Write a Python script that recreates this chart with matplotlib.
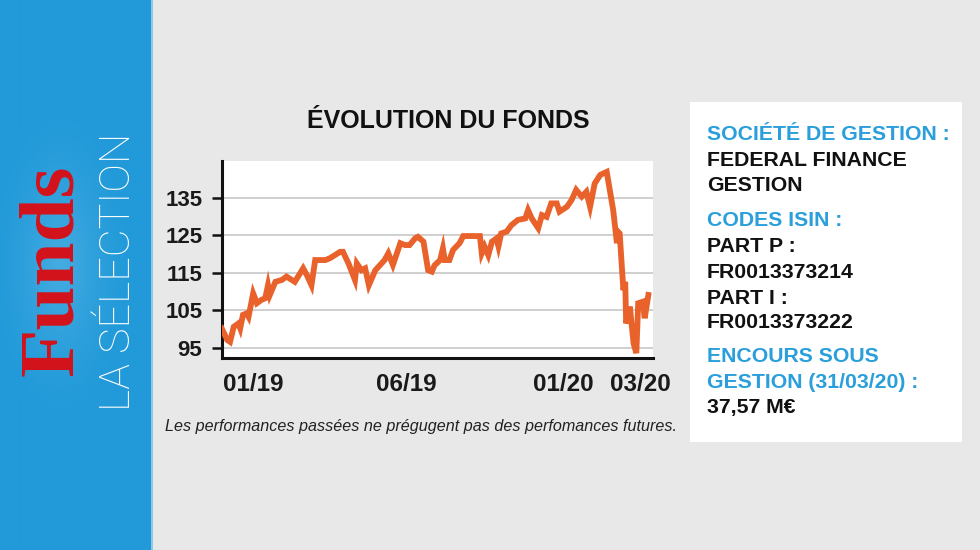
import numpy as np
import matplotlib.pyplot as plt
from matplotlib.colors import to_rgb

# données (jours depuis le début, valeur du fonds)
jours = [0, 6, 9, 13, 18, 20, 23, 27, 29, 34, 38, 43, 47, 50, 52, 58, 65, 70,
         79, 88, 92, 97, 101, 112, 117, 128, 131, 137, 144, 146, 151, 155, 159,
         166, 176, 180, 185, 193, 198, 203, 209, 212, 218, 223, 227, 230, 236,
         239, 241, 246, 250, 257, 261, 279, 281, 284, 288, 292, 297, 299, 302,
         308, 313, 320, 328, 331, 335, 342, 346, 351, 356, 362, 365, 373, 378,
         383, 389, 394, 398, 403, 409, 416, 423, 427, 428, 430, 434, 436, 437,
         441, 445, 448, 450, 455, 457, 461]
valeurs = [100.2, 97.1, 96.6, 100.6, 101.5, 100.2, 103.8, 104.2, 103.3, 109.5,
           106.9, 107.8, 108.2, 111.7, 109.1, 112.6, 113.1, 114.0, 112.6, 116.2,
           114.4, 111.7, 118.4, 118.4, 118.9, 120.6, 120.6, 117.5, 113.1, 117.5,
           115.7, 116.2, 111.7, 115.7, 118.4, 120.2, 117.1, 122.9, 122.4, 122.4,
           124.2, 124.6, 123.3, 115.7, 115.3, 117.0, 118.4, 121.5, 118.4, 118.4,
           121.1, 122.9, 124.8, 124.8, 120.2, 122.0, 119.7, 123.3, 124.2, 122.1,
           125.5, 126.0, 127.7, 129.1, 129.5, 131.7, 129.5, 126.9, 130.4, 129.9,
           133.5, 133.5, 131.3, 132.6, 134.4, 137.1, 135.3, 136.6, 132.6, 138.8,
           141.1, 141.9, 131.7, 122.9, 126.0, 125.5, 110.4, 112.6, 101.5, 106.0,
           96.2, 93.6, 106.9, 107.3, 102.9, 109.1]

yticks = [95, 105, 115, 125, 135]
xtick_pos = [34, 200, 369, 452]
xtick_labels = ['01/19', '06/19', '01/20', '03/20']

infos = [
    ('SOCIÉTÉ DE GESTION :', 'bleu'),
    ('FEDERAL FINANCE', 'noir'),
    ('GESTION', 'noir'),
    ('CODES ISIN :', 'bleu'),
    ('PART P :', 'noir'),
    ('FR0013373214', 'noir'),
    ('PART I :', 'noir'),
    ('FR0013373222', 'noir'),
    ('ENCOURS SOUS', 'bleu'),
    ('GESTION (31/03/20) :', 'bleu'),
    ('37,57 M€', 'noir'),
]
infos_y = [135, 160, 185, 221, 247, 272, 298, 323, 357, 383, 408]

BLEU = '#2a9fdb'
ORANGE = '#e9622b'
FOND = '#e8e8e8'

plt.rcParams['font.family'] = ['Liberation Sans', 'DejaVu Sans']

W, H = 980, 550
fig = plt.figure(figsize=(W / 100, H / 100), dpi=100, facecolor=FOND)


def fx(px):
    return px / W


def fy(py):
    return 1 - py / H


# bandeau bleu à gauche avec léger halo
ax_band = fig.add_axes([0, 0, fx(152), 1])
ax_band.set_axis_off()
gx, gy = np.meshgrid(np.linspace(0, 152, 152), np.linspace(0, 550, 550))
d = np.sqrt(((gx - 60) / 70) ** 2 + ((gy - 265) / 160) ** 2)
t = np.clip(1 - d, 0, 1) ** 1.5 * 0.4
c0 = np.array(to_rgb('#229ad9'))
c1 = np.array(to_rgb('#7cc8ee'))
img = c0[None, None, :] * (1 - t[..., None]) + c1[None, None, :] * t[..., None]
ax_band.imshow(img, extent=[0, 152, 550, 0], aspect='auto')
ax_band.set_xlim(0, 152)
ax_band.set_ylim(550, 0)
fig.add_artist(plt.Line2D([fx(152), fx(152)], [0, 1], color='#9fd3f0', lw=1.2))

fig.text(fx(54), fy(270), 'Funds', rotation=90, ha='center', va='center',
         family=['Liberation Serif', 'DejaVu Serif'], fontweight='bold',
         fontsize=57, color='#d4121b')
fig.text(fx(118), fy(272), 'LA SÉLECTION', rotation=90, ha='center', va='center',
         family=['Roboto', 'DejaVu Sans'], fontweight='light',
         fontsize=31, color='white')

# graphique
ax = fig.add_axes([fx(221.7), fy(358), fx(653 - 221.7), (358 - 161) / H])
ax.set_facecolor('white')
ax.plot(jours, valeurs, color=ORANGE, lw=4.2, solid_joinstyle='miter', zorder=3)
ax.set_xlim(0, 466)
ax.set_ylim(92.3, 144.8)
ax.set_yticks(yticks)
ax.set_xticks(xtick_pos)
ax.set_xticklabels(xtick_labels)
ax.yaxis.grid(True, color='#cfcfcf', lw=1.4)
ax.set_axisbelow(True)
for s in ['top', 'right']:
    ax.spines[s].set_visible(False)
for s in ['left', 'bottom']:
    ax.spines[s].set_linewidth(2.2)
    ax.spines[s].set_color('#111111')
ax.tick_params(axis='y', length=7, width=1.8, pad=7, labelsize=16,
               color='#111111', labelcolor='#1a1a1a')
ax.tick_params(axis='x', length=0, pad=11, labelsize=17.5, labelcolor='#1a1a1a')
for lab in ax.get_xticklabels() + ax.get_yticklabels():
    lab.set_fontweight('bold')

fig.text(fx(448), fy(121), 'ÉVOLUTION DU FONDS', ha='center', va='center',
         fontsize=18, fontweight='bold', color='#111111')
fig.text(fx(421), fy(426), 'Les performances passées ne prégugent pas des perfomances futures.',
         ha='center', va='center', fontsize=11.6, style='italic', color='#222222')

# encadré d'informations
fig.patches.append(plt.Rectangle((fx(690), fy(442)), fx(962 - 690), (442 - 102) / H,
                                 transform=fig.transFigure, facecolor='white',
                                 edgecolor='none'))
couleurs = {'bleu': '#2a9fdb', 'noir': '#111111'}
for (txt, c), y in zip(infos, infos_y):
    fig.text(fx(707), fy(y), txt, ha='left', va='center', fontsize=15.3,
             fontweight='bold', color=couleurs[c])

fig.savefig('out.png', dpi=100, facecolor=FOND)
